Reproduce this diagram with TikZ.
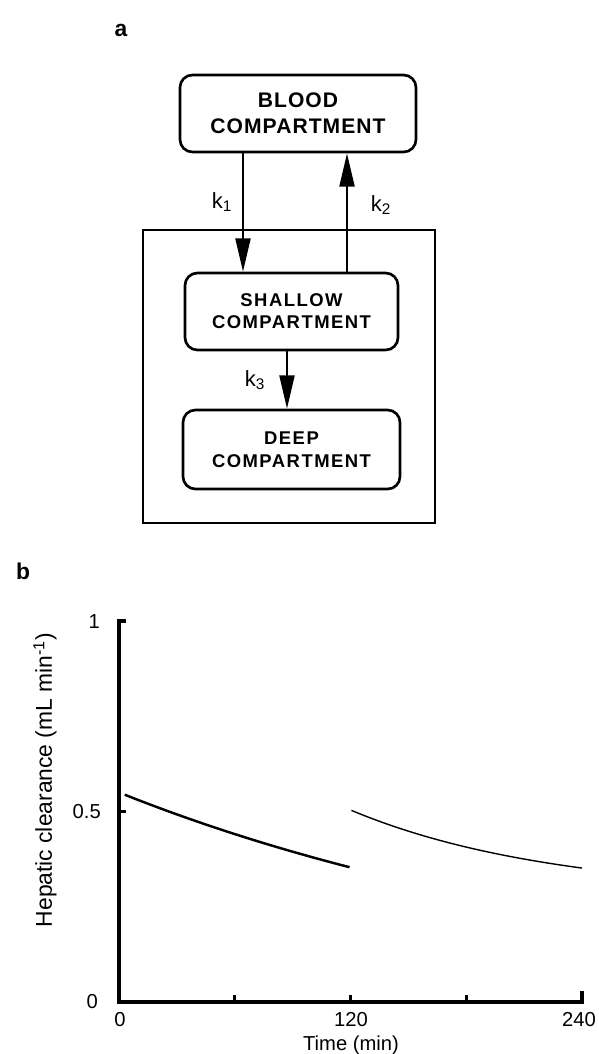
\documentclass[tikz,border=0pt]{standalone}
\usepackage{fontspec}
\setmainfont{Liberation Sans}
\newfontfamily\bigboxfont[LetterSpace=5]{Liberation Sans}
\newfontfamily\boxfont[LetterSpace=8]{Liberation Sans}
\usetikzlibrary{arrows.meta, positioning}

\tikzset{
  compbox/.style={draw, line width=1.5pt, rounded corners=7pt, align=center, inner sep=0pt},
  flow/.style={line width=1.4pt, -{Triangle[length=19pt,width=8.5pt]}},
  axisline/.style={line width=2.3pt},
  ticklab/.style={font=\fontsize{11.5}{14}\selectfont},
  klab/.style={font=\fontsize{12.5}{14}\selectfont},
  panellab/.style={font=\bfseries\fontsize{13}{15}\selectfont},
}

\begin{document}
\begin{tikzpicture}[x=0.02cm, y=-0.02cm]
  \useasboundingbox (0,0) rectangle (598,1054);

  % panel a
  \node[panellab] (laba) at (121,30) {a};
  \node[compbox, minimum width=4.72cm, minimum height=1.54cm,
        font=\bigboxfont\bfseries\fontsize{12}{14.7}\selectfont] (blood) at (298,113.5) {BLOOD\\COMPARTMENT};
  \draw[line width=1.5pt] (143,230) rectangle (435,523);
  \node[compbox, minimum width=4.26cm, minimum height=1.54cm,
        font=\boxfont\bfseries\fontsize{10.5}{12.5}\selectfont] (shallow) at (291.5,311.5) {SHALLOW\\COMPARTMENT};
  \node[compbox, minimum width=4.34cm, minimum height=1.58cm,
        font=\boxfont\bfseries\fontsize{10.5}{13}\selectfont] (deep) at (291.5,449.5) {DEEP\\COMPARTMENT};

  \coordinate (k1x) at (243,0);
  \coordinate (k2x) at (347,0);
  \coordinate (k3x) at (287,0);
  \draw[flow] (blood.south -| k1x) -- (shallow.north -| k1x);
  \draw[flow] (shallow.north -| k2x) -- (blood.south -| k2x);
  \draw[flow] (shallow.south -| k3x) -- (deep.north -| k3x);
  \node[klab] (k1) at (222,202) {k\textsubscript{1}};
  \node[klab] (k2) at (381,205) {k\textsubscript{2}};
  \node[klab] (k3) at (255,380) {k\textsubscript{3}};

  % panel b
  \node[panellab] (labb) at (23,571) {b};
  \coordinate (origin) at (119,1002);
  \coordinate (ytop) at (119,621);
  \coordinate (xend) at (582,1002);
  \draw[axisline] ([xshift=0.14cm]ytop) -- (ytop) -- (origin) -- (xend) -- ++(0,-11);
  \draw[line width=1.5pt] (119,811.5) -- ++(7,0);
  \foreach \t in {60,120,180} {
    \draw[line width=1.5pt] ({119+1.929*\t},1002) -- ++(0,-7);
  }
  \node[ticklab, anchor=east] (y1) at (106,622) {1};
  \node[ticklab, anchor=east] (y05) at (107,812) {0.5};
  \node[ticklab, anchor=east] (y0) at (104,1002) {0};
  \node[ticklab] (x0) at (120,1020) {0};
  \node[ticklab] (x120) at (351,1020) {120};
  \node[ticklab] (x240) at (579,1020) {240};
  \node[ticklab, below=-2pt of x120] (xtitle) {Time (min)};
  \node[font=\fontsize{13}{15}\selectfont, rotate=90] (ytitle) at (45,780)
       {Hepatic clearance (mL min\textsuperscript{-1})};

  \draw[line width=1.4pt] plot[smooth, domain=3:119.5, samples=30]
       ({119+1.929*\x}, {1002-381*0.55*exp(-0.0037*\x)});
  \draw[line width=0.8pt] plot[smooth, domain=120.5:240, samples=30]
       ({119+1.929*\x}, {1002-381*(0.28+0.224*exp(-0.0095*(\x-120)))});
\end{tikzpicture}
\end{document}
